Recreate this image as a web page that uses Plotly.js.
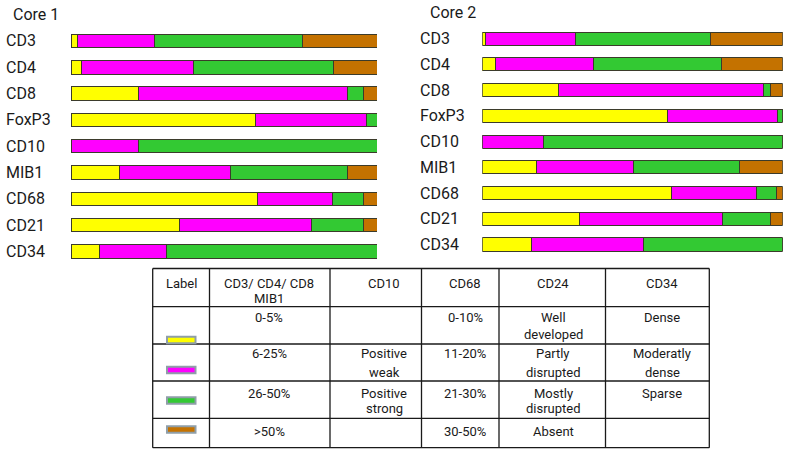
<!DOCTYPE html>
<html>
<head>
<meta charset="utf-8">
<script src="https://cdn.plot.ly/plotly-3.0.1.min.js"></script>
<style>html,body{margin:0;padding:0;background:#fff;}#chart{width:788px;height:453px;}</style>
</head>
<body>
<div id="chart"></div>
<script>
// ---------------- DATA ----------------
const categories = ['CD3','CD4','CD8','FoxP3','CD10','MIB1','CD68','CD21','CD34'];
const panelTitles = ['Core 1','Core 2'];
const seriesNames = ['0-5% / 0-10%','6-25% / 11-20%','26-50% / 21-30%','>50% / 30-50%'];

const core1Yellow  = [2.0, 3.4, 22.0, 60.2, 0,    15.7, 61.1, 35.3, 9.2];
const core1Magenta = [25.4, 36.7, 68.2, 36.5, 22.0, 36.5, 24.4, 43.4, 21.9];
const core1Green   = [48.3, 45.8, 5.3, 3.3, 78.0, 38.3, 10.0, 16.9, 68.9];
const core1Brown   = [24.3, 14.1, 4.5, 0,   0,    9.5,  4.5,  4.4,  0];

const core2Yellow  = [1.2, 4.3, 25.4, 61.8, 0,    18.2, 62.9, 32.3, 16.4];
const core2Magenta = [29.9, 32.6, 68.1, 36.6, 20.3, 32.1, 28.5, 47.6, 37.3];
const core2Green   = [44.9, 42.8, 2.4, 1.6, 79.7, 35.4, 6.7, 16.0, 46.3];
const core2Brown   = [24.0, 20.3, 4.1, 0,   0,    14.3, 1.9,  4.1,  0];

const tableHeader = [['Label'], ['CD3/ CD4/ CD8', 'MIB1'], ['CD10'], ['CD68'], ['CD24'], ['CD34']];
const tableRows = [
  [[], ['0-5%'],   [],                    ['0-10%'],  ['Well', 'developed'],    ['Dense']],
  [[], ['6-25%'],  ['Positive', 'weak'],  ['11-20%'], ['Partly', 'disrupted'],  ['Moderatly', 'dense']],
  [[], ['26-50%'], ['Positive', 'strong'],['21-30%'], ['Mostly', 'disrupted'],  ['Sparse']],
  [[], ['>50%'],   [],                    ['30-50%'], ['Absent'],               []]
];

// ---------------- STYLE / LAYOUT ----------------
const W = 788, H = 453;
const colors = ['#FFFF00', '#FF00FF', '#33C933', '#C47200'];
const FONT = 'Roboto, "Liberation Sans", Arial, sans-serif';
const TXT = '#1a1a1a';
const px = x => x / W;
const py = y => 1 - y / H;

const core1 = [core1Yellow, core1Magenta, core1Green, core1Brown];
const core2 = [core2Yellow, core2Magenta, core2Green, core2Brown];

const traces = [];
[core1, core2].forEach((core, ci) => {
  core.forEach((vals, si) => {
    traces.push({
      type: 'bar', orientation: 'h',
      y: categories, x: vals,
      name: seriesNames[si],
      xaxis: ci === 0 ? 'x' : 'x2', yaxis: ci === 0 ? 'y' : 'y2',
      width: 0.51,
      marker: {color: colors[si], line: {color: '#3b3b2b', width: 1}},
      showlegend: false, hoverinfo: 'x+y'
    });
  });
});

const annotations = [];
const shapes = [];

// panel titles
annotations.push({text: panelTitles[0], xref: 'paper', yref: 'paper', x: px(11), y: py(14), xanchor: 'left', yanchor: 'middle', showarrow: false, font: {family: FONT, size: 16, color: TXT}});
annotations.push({text: panelTitles[1], xref: 'paper', yref: 'paper', x: px(428), y: py(12), xanchor: 'left', yanchor: 'middle', showarrow: false, font: {family: FONT, size: 16, color: TXT}});

// category labels (left aligned)
categories.forEach(c => {
  annotations.push({text: c, xref: 'paper', yref: 'y', x: px(4), y: c, xanchor: 'left', yanchor: 'middle', showarrow: false, font: {family: FONT, size: 16, color: TXT}});
  annotations.push({text: c, xref: 'paper', yref: 'y2', x: px(418), y: c, xanchor: 'left', yanchor: 'middle', showarrow: false, font: {family: FONT, size: 16, color: TXT}});
});

// table grid
const colX = [152.7, 209.5, 330, 421.5, 499, 605.5, 709.3];
const rowY = [268.5, 306.7, 344, 381, 418.3, 447.7];
colX.forEach(x => shapes.push({type: 'line', xref: 'paper', yref: 'paper', x0: px(x), x1: px(x), y0: py(rowY[0]), y1: py(rowY[rowY.length - 1]), line: {color: '#1a1a1a', width: 1.3}}));
rowY.forEach(y => shapes.push({type: 'line', xref: 'paper', yref: 'paper', x0: px(colX[0]), x1: px(colX[colX.length - 1]), y0: py(y), y1: py(y), line: {color: '#1a1a1a', width: 1.3}}));

const textCX = [181, 269, 384, 465, 553, 662];
function addCell(lines, cx, y0, gap) {
  lines.forEach((t, i) => annotations.push({text: t, xref: 'paper', yref: 'paper', x: px(cx), y: py(y0 + i * gap), xanchor: 'center', yanchor: 'middle', showarrow: false, font: {family: FONT, size: 13, color: TXT}}));
}
tableHeader.forEach((lines, ci) => addCell(lines, textCX[ci], 283, 15.5));
const rowFirst = [317.3, 353.3, 393, 431.7];
const rowGap = [17, 19, 15.5, 15];
tableRows.forEach((row, ri) => row.forEach((lines, ci) => addCell(lines, textCX[ci], rowFirst[ri], rowGap[ri])));

// legend swatches in the Label column
const swY = [340, 370, 400.5, 429.5];
colors.forEach((c, i) => shapes.push({type: 'rect', xref: 'paper', yref: 'paper', x0: px(167), x1: px(195.5), y0: py(swY[i] - 3.3), y1: py(swY[i] + 3.3), fillcolor: c, line: {color: '#8f9ea8', width: 2}}));

const layout = {
  width: W, height: H,
  margin: {l: 0, r: 0, t: 0, b: 0},
  paper_bgcolor: '#fff', plot_bgcolor: 'rgba(0,0,0,0)',
  barmode: 'stack',
  showlegend: false,
  xaxis:  {domain: [px(71), px(377)],  range: [0, 100], visible: false, fixedrange: true},
  xaxis2: {domain: [px(482.3), px(782.7)], range: [0, 100], visible: false, fixedrange: true},
  yaxis:  {domain: [py(264.7), py(27.8)],  range: [8.5, -0.5], type: 'category', categoryorder: 'array', categoryarray: categories, visible: false, anchor: 'x', fixedrange: true},
  yaxis2: {domain: [py(257.4), py(25.8)],  range: [8.5, -0.5], type: 'category', categoryorder: 'array', categoryarray: categories, visible: false, anchor: 'x2', fixedrange: true},
  annotations: annotations,
  shapes: shapes
};

Plotly.newPlot('chart', traces, layout, {displayModeBar: false, staticPlot: true});
</script>
</body>
</html>
